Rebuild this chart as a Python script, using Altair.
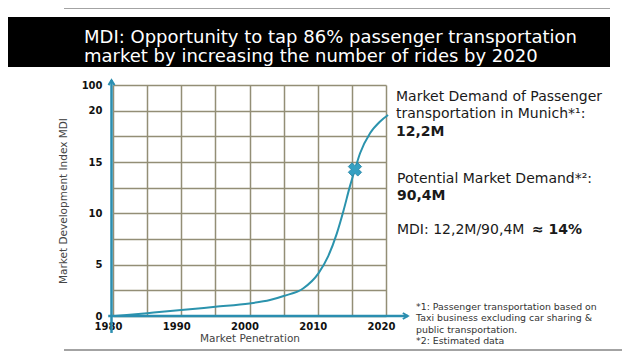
import altair as alt
import pandas as pd

# ---------------- data ----------------
title_lines = ["MDI: Opportunity to tap 86% passenger transportation",
               "market by increasing the number of rides by 2020"]

curve_years = [1980.3, 1985, 1990, 1995, 2000, 2003, 2005, 2007.9, 2010.1,
               2011.5, 2012.8, 2013.8, 2014.7, 2015.45, 2016.2, 2017.66,
               2019.1, 2020.3]
curve_rows = [0.0, 0.11, 0.23, 0.36, 0.49, 0.62, 0.78, 1.08, 1.66,
              2.31, 3.22, 4.13, 5.04, 5.71, 6.34, 7.12,
              7.57, 7.83]

marker_year = [2015.45]
marker_row = [5.71]

x_grid_years = [1980, 1985, 1990, 1995, 2000, 2005, 2010, 2015, 2020]
x_label_years = [1980, 1990, 2000, 2010, 2020]
y_grid_rows = [0, 1, 2, 3, 4, 5, 6, 7, 8, 9]
y_label_rows = [0, 2, 4, 6, 8, 9]
y_labels = ["0", "5", "10", "15", "20", "100"]

x_title = "Market Penetration"
y_title = "Market Development Index MDI"

# axis arrows (in data units)
yaxis_years = [1979.78, 1979.78]
yaxis_rows = [-0.66, 9.19]
xaxis_years = [1979.3, 2023.2]
xaxis_rows = [0, 0]

demand_lines = ["Market Demand of Passenger", "transportation in Munich*\u00b9:"]
demand_value = "12,2M"
potential_line = "Potential Market Demand*\u00b2:"
potential_value = "90,4M"
mdi_text = "MDI: 12,2M/90,4M"
mdi_value = "\u2248 14%"
footnotes = ["*1: Passenger transportation based on",
             "Taxi business excluding car sharing &",
             "public transportation.",
             "*2: Estimated data"]

# ---------------- styling ----------------
TEAL_AXIS = "#2a8eb0"
TEAL_LINE = "#2b93ad"
TEAL_MARK = "#35a0c2"
GRID = "#938e76"
FONT = "DejaVu Sans"

x_scale = alt.Scale(domain=[1980, 2020], nice=False, zero=False)
y_scale = alt.Scale(domain=[0, 9], nice=False, zero=False)

x_label_expr = "indexof([" + ",".join(str(v) for v in x_label_years) + "], datum.value) >= 0 ? '' + datum.value : ''"
lab_arr = [""] * len(y_grid_rows)
for r, l in zip(y_label_rows, y_labels):
    lab_arr[r] = l
y_label_expr = "[" + ",".join("'" + s + "'" for s in lab_arr) + "][datum.value]"

x_axis = alt.Axis(values=x_grid_years, labelExpr=x_label_expr, grid=True,
                  gridColor=GRID, gridWidth=1.5, domain=False, ticks=False,
                  labelFont=FONT, labelFontWeight="bold", labelFontSize=10,
                  labelColor="#111111", labelPadding=5, labelOffset=-5,
                  labelFlush=False, labelOverlap=False,
                  title=x_title, titleFont=FONT, titleFontSize=10.5,
                  titleFontWeight="normal", titleColor="#444444", titlePadding=2)
y_axis = alt.Axis(values=y_grid_rows, labelExpr=y_label_expr, grid=True,
                  gridColor=GRID, gridWidth=1.5, domain=False, ticks=False,
                  labelFont=FONT, labelFontWeight="bold", labelFontSize=10,
                  labelColor="#111111", labelPadding=11, labelBaseline="middle",
                  labelFlush=False, labelOverlap=False,
                  title=y_title, titleFont=FONT, titleFontSize=10.5,
                  titleFontWeight="normal", titleColor="#444444", titlePadding=13)

one = pd.DataFrame({"k": [0]})


def band(x, x2, y, y2, color):
    return alt.Chart(one).mark_rect(color=color).encode(
        x=alt.value(x), x2=alt.value(x2), y=alt.value(y), y2=alt.value(y2))


def txt(s, x, y, size, weight="normal", color="#1a1a1a"):
    df = pd.DataFrame({"t": [s]})
    return alt.Chart(df).mark_text(align="left", baseline="middle", font=FONT,
                                   fontSize=size, fontWeight=weight,
                                   color=color).encode(
        x=alt.value(x), y=alt.value(y), text="t:N")


def xy(df):
    return dict(x=alt.X("year:Q", scale=x_scale, axis=x_axis),
                y=alt.Y("row:Q", scale=y_scale, axis=y_axis))


curve_df = pd.DataFrame({"year": curve_years, "row": curve_rows})
curve = alt.Chart(curve_df).mark_line(
    color=TEAL_LINE, strokeWidth=2, interpolate="monotone").encode(**xy(curve_df))

ydf = pd.DataFrame({"year": yaxis_years, "row": yaxis_rows})
yline = alt.Chart(ydf).mark_line(color=TEAL_AXIS, strokeWidth=2.5).encode(**xy(ydf))
xdf = pd.DataFrame({"year": xaxis_years, "row": xaxis_rows})
xline = alt.Chart(xdf).mark_line(color=TEAL_AXIS, strokeWidth=2.5).encode(**xy(xdf))

updf = pd.DataFrame({"year": yaxis_years[-1:], "row": yaxis_rows[-1:]})
up_head = alt.Chart(updf).mark_point(
    shape="M -0.6 1 L 0 0 L 0.6 1", filled=False, color=TEAL_AXIS, strokeWidth=2,
    size=100, opacity=1).encode(**xy(updf))
rdf = pd.DataFrame({"year": xaxis_years[-1:], "row": xaxis_rows[-1:]})
right_head = alt.Chart(rdf).mark_point(
    shape="M -1 -0.6 L 0 0 L -1 0.6", filled=False, color=TEAL_AXIS, strokeWidth=2,
    size=100, opacity=1).encode(**xy(rdf))

mdf = pd.DataFrame({"year": marker_year, "row": marker_row})
marker = alt.Chart(mdf).mark_point(
    shape="cross", angle=45, filled=True, color=TEAL_MARK, size=180, opacity=1,
    stroke="#2a86a6", strokeWidth=0.8).encode(**xy(mdf))

layers = [
    band(-113, 497, -68, -18, "#000000"),
    band(-49, 497, -85, -76, "#a3a3a3"),
    band(-49, 509, 264, 274, "#a3a3a3"),
    curve, yline, xline, up_head, right_head, marker,
    txt(title_lines[0], -29, -47, 18, color="#ffffff"),
    txt(title_lines[1], -29, -28, 18, color="#ffffff"),
    txt(demand_lines[0], 283, 12, 14),
    txt(demand_lines[1], 283, 29, 14),
    txt(demand_value, 283, 47, 14, weight="bold"),
    txt(potential_line, 284, 94, 14),
    txt(potential_value, 284, 111, 14, weight="bold"),
    txt(mdi_text, 284, 145, 14),
    txt(mdi_value, 419, 145, 14, weight="bold"),
]
for i, line in enumerate(footnotes):
    layers.append(txt(line, 303, 222 + i * 11.3, 9.4, color="#333333"))

chart = alt.layer(*layers).properties(
    width=273, height=231,
    autosize=alt.AutoSizeParams(type="none"),
    padding={"left": 105, "top": 77, "right": 244, "bottom": 35},
    background="#ffffff",
).configure_view(stroke=None)

chart.save("out.html", embed_options={"renderer": "svg", "actions": False})
